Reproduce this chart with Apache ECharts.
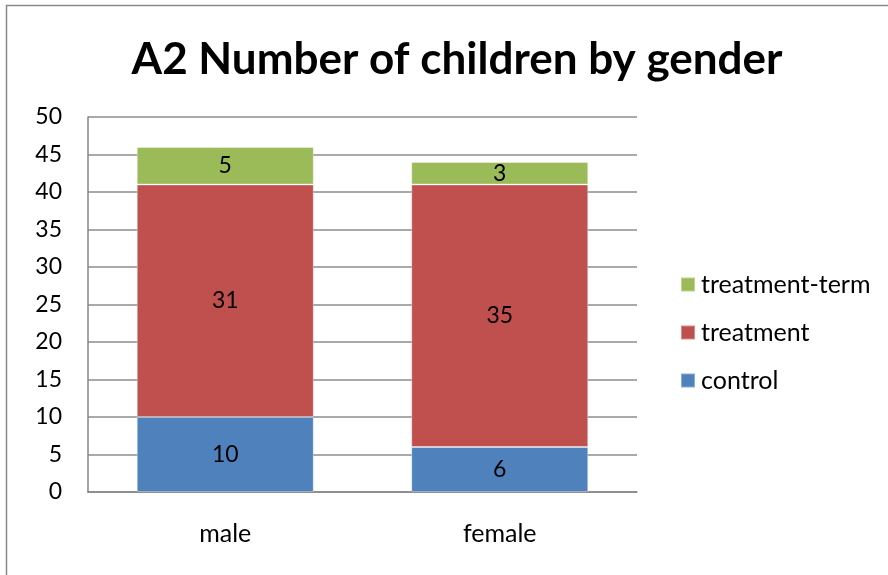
<!DOCTYPE html>
<html><head><meta charset="utf-8">
<script src="https://cdn.jsdelivr.net/npm/echarts@6/dist/echarts.min.js"></script>
<style>html,body{margin:0;padding:0;background:#fff}#c{width:888px;height:575px}</style>
</head><body><div id="c"></div>
<script>
var categories = ['male', 'female'];
var control = [10, 6];
var treatment = [31, 35];
var treatmentTerm = [5, 3];
var yTicks = [0, 5, 10, 15, 20, 25, 30, 35, 40, 45, 50];

var FONT = 'Lato';
var chart = echarts.init(document.getElementById('c'), null, {renderer: 'canvas'});
function seg(name, data, color) {
  return {
    name: name, type: 'bar', stack: 'total', data: data, barWidth: 177,
    itemStyle: {color: color, borderColor: 'rgba(255,255,255,0.35)', borderWidth: 1},
    label: {show: true, position: 'inside', color: '#000', fontFamily: FONT, fontSize: 23},
    emphasis: {disabled: true}
  };
}
chart.setOption({
  animation: false,
  backgroundColor: '#fff',
  graphic: [{type: 'rect', shape: {x: 6.5, y: 5.5, width: 1000, height: 1000},
    style: {fill: 'none', stroke: '#888', lineWidth: 1.5}, silent: true, z: -1}],
  title: {text: 'A2 Number of children by gender', left: 452, top: 33, textAlign: 'center',
    textStyle: {fontFamily: FONT, fontWeight: 'bold', fontSize: 44, color: '#000'}},
  grid: {left: 88, right: 251, top: 117, bottom: 83, containLabel: false},
  legend: {orient: 'vertical', left: 680, top: 272, padding: 0, itemWidth: 14, itemHeight: 14, itemGap: 23,
    icon: 'rect', data: ['treatment-term', 'treatment', 'control'],
    textStyle: {fontFamily: FONT, fontSize: 25, color: '#000', padding: [0, 0, 0, 1]}},
  xAxis: {type: 'category', data: categories,
    axisLine: {lineStyle: {color: '#868686', width: 1.5}}, axisTick: {show: false},
    axisLabel: {fontFamily: FONT, fontSize: 25, color: '#000', margin: 29}},
  yAxis: {type: 'value', min: yTicks[0], max: yTicks[yTicks.length - 1], interval: 5,
    axisLine: {show: true, lineStyle: {color: '#868686', width: 1.5}}, axisTick: {show: false},
    splitLine: {lineStyle: {color: '#8c8c8c', width: 1.5}},
    axisLabel: {fontFamily: FONT, fontSize: 23, color: '#000', margin: 26}},
  series: [
    seg('control', control, '#4F81BD'),
    seg('treatment', treatment, '#C0504D'),
    seg('treatment-term', treatmentTerm, '#9BBB59')
  ]
});
</script></body></html>
